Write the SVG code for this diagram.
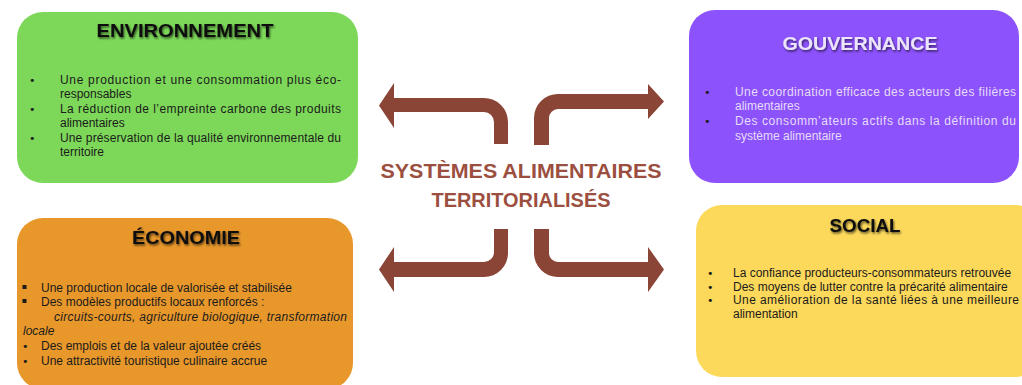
<svg xmlns="http://www.w3.org/2000/svg" width="1022" height="385" viewBox="0 0 1022 385">
<defs>
<filter id="sh" x="-10%" y="-40%" width="120%" height="180%">
<feDropShadow dx="1" dy="1.5" stdDeviation="1.3" flood-color="#000" flood-opacity="0.65"/>
</filter>
<style>
.t{font-family:"Liberation Sans",Arial,sans-serif;font-weight:bold;font-size:19px;text-anchor:middle}
.b{font-family:"Liberation Sans",Arial,sans-serif;font-size:12px;fill:#1b1b1b}
.w{fill:#e6dcf8}
.i{font-style:italic}
.bul{font-family:"DejaVu Sans",sans-serif;font-size:11px;fill:#1b1b1b}
.arr{fill:#8b4536}
.ct{font-family:"Liberation Sans",Arial,sans-serif;font-weight:bold;font-size:21px;fill:#9c4f3f;text-anchor:middle}
</style>
</defs>
<rect width="1022" height="385" fill="#ffffff"/>

<g id="connectors">
<path class="arr" d="M379,105.5 L394,83 L394,98 L484,98 A24,24 0 0 1 508,122 L508,144 L494,144 L494,122 A10,10 0 0 0 484,112 L394,112 L394,128 Z"/>
<path class="arr" d="M664,101.5 L648,119 L648,109 L558,109 A9,9 0 0 0 549,118 L549,145 L534,145 L534,118 A24,24 0 0 1 558,94 L648,94 L648,84 Z"/>
<path class="arr" d="M379,269.5 L394,247 L394,262 L484,262 A10,10 0 0 0 494,252 L494,229 L508,229 L508,253 A24,24 0 0 1 484,277 L394,277 L394,292 Z"/>
<path class="arr" d="M664,269.5 L648,292 L648,277 L558,277 A24,24 0 0 1 534,253 L534,229 L549,229 L549,253 A9,9 0 0 0 558,262 L648,262 L648,247 Z"/>
</g>

<g id="center">
<text class="ct" x="521" y="178" textLength="281" lengthAdjust="spacingAndGlyphs">SYSTÈMES ALIMENTAIRES</text>
<text class="ct" x="521" y="207" textLength="179" lengthAdjust="spacingAndGlyphs">TERRITORIALISÉS</text>
</g>

<g id="environnement">
<rect x="17" y="12" width="341" height="171" rx="26" fill="#7dd859"/>
<text class="t" x="185" y="37" fill="#111" filter="url(#sh)" textLength="177" lengthAdjust="spacingAndGlyphs">ENVIRONNEMENT</text>
<text class="bul" x="29" y="84">•</text>
<text class="bul" x="29" y="113">•</text>
<text class="bul" x="29" y="142">•</text>
<text class="b" x="60" y="84" textLength="281" lengthAdjust="spacing">Une production et une consommation plus éco-</text>
<text class="b" x="60" y="98">responsables</text>
<text class="b" x="60" y="113" textLength="281" lengthAdjust="spacing">La réduction de l’empreinte carbone des produits</text>
<text class="b" x="60" y="127">alimentaires</text>
<text class="b" x="60" y="142" textLength="281" lengthAdjust="spacing">Une préservation de la qualité environnementale du</text>
<text class="b" x="60" y="156">territoire</text>
</g>

<g id="gouvernance">
<rect x="689" y="10" width="330" height="173" rx="26" fill="#8c52fc"/>
<text class="t" x="860" y="50" fill="#ece4fb" filter="url(#sh)" textLength="155" lengthAdjust="spacingAndGlyphs">GOUVERNANCE</text>
<text class="bul w" x="704" y="96">•</text>
<text class="bul w" x="704" y="125">•</text>
<text class="b w" x="735" y="96" textLength="281" lengthAdjust="spacing">Une coordination efficace des acteurs des filières</text>
<text class="b w" x="735" y="110">alimentaires</text>
<text class="b w" x="735" y="125" textLength="281" lengthAdjust="spacing">Des consomm’ateurs actifs dans la définition du</text>
<text class="b w" x="735" y="140">système alimentaire</text>
</g>

<g id="economie">
<rect x="17" y="218" width="336" height="171" rx="26" fill="#e8972b"/>
<text class="t" x="186" y="244" fill="#111" filter="url(#sh)" textLength="108" lengthAdjust="spacingAndGlyphs">ÉCONOMIE</text>
<rect x="22.5" y="285" width="4" height="4" fill="#1b1b1b"/>
<rect x="22.5" y="299" width="4" height="4" fill="#1b1b1b"/>
<text class="bul" x="22" y="350">•</text>
<text class="bul" x="22" y="365">•</text>
<text class="b" x="41" y="292">Une production locale de valorisée et stabilisée</text>
<text class="b" x="41" y="306">Des modèles productifs locaux renforcés :</text>
<text class="b i" x="54" y="321" textLength="293" lengthAdjust="spacing">circuits-courts, agriculture biologique,   transformation</text>
<text class="b i" x="23" y="335">locale</text>
<text class="b" x="41" y="350">Des emplois et de la valeur ajoutée créés</text>
<text class="b" x="41" y="365">Une attractivité touristique culinaire accrue</text>
</g>

<g id="social">
<rect x="696" y="205" width="345" height="172" rx="26" fill="#fdd95b"/>
<text class="t" x="865" y="232" fill="#111" filter="url(#sh)" textLength="71" lengthAdjust="spacingAndGlyphs">SOCIAL</text>
<text class="bul" x="707" y="277">•</text>
<text class="bul" x="707" y="291">•</text>
<text class="bul" x="707" y="304">•</text>
<text class="b" x="733" y="277">La confiance producteurs-consommateurs retrouvée</text>
<text class="b" x="733" y="291">Des moyens de lutter contre la précarité alimentaire</text>
<text class="b" x="733" y="304" textLength="286" lengthAdjust="spacing">Une amélioration de la santé liées à une meilleure</text>
<text class="b" x="733" y="318">alimentation</text>
</g>
</svg>
